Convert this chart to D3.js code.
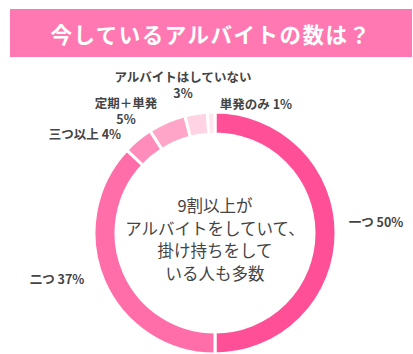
<!DOCTYPE html>
<html>
<head>
<meta charset="utf-8">
<script src="https://cdn.jsdelivr.net/npm/d3@7"></script>
<style>
  body { margin: 0; background: #fff; }
  text { font-family: "Noto Sans CJK JP", sans-serif; }
</style>
</head>
<body>
<div id="chart"></div>
<script>
// data (clockwise from 12 o'clock)
const categories = ["一つ", "二つ", "三つ以上", "定期＋単発", "アルバイトはしていない", "単発のみ"];
const values = [50, 37, 4, 5, 3, 1];
const colors = ["#ff4f96", "#ff6ea8", "#ff8cba", "#ffa6c8", "#ffd3e3", "#ffe6ef"];
const centerLines = ["9割以上が", "アルバイトをしていて、", "掛け持ちをして", "いる人も多数"];
const title = "今しているアルバイトの数は？";

const width = 413, height = 354;
const cx = 215, cy = 233, outerR = 121, innerR = 99;

const svg = d3.select("#chart")
    .append("svg")
    .attr("width", width)
    .attr("height", height)
    .attr("viewBox", [0, 0, width, height]);

// title bar
svg.append("rect")
    .attr("x", 10).attr("y", 9)
    .attr("width", 402).attr("height", 48)
    .attr("fill", "#ff78b1");

svg.append("text")
    .attr("x", 211).attr("y", 33)
    .attr("text-anchor", "middle")
    .attr("dominant-baseline", "central")
    .attr("fill", "#fff")
    .attr("font-size", 21.5)
    .attr("font-weight", "bold")
    .attr("letter-spacing", 1.5)
    .text(title);

const data = categories.map((c, i) => ({ name: c, value: values[i], color: colors[i] }));

const pie = d3.pie().value(d => d.value).sort(null);
const arc = d3.arc().innerRadius(innerR).outerRadius(outerR);

const g = svg.append("g").attr("transform", `translate(${cx}, ${cy})`);

g.selectAll("path")
    .data(pie(data))
    .join("path")
    .attr("d", arc)
    .attr("fill", d => d.data.color)
    .attr("stroke", "#fff")
    .attr("stroke-width", 3);

// center text
g.selectAll(".center")
    .data(centerLines)
    .join("text")
    .attr("class", "center")
    .attr("text-anchor", "middle")
    .attr("dominant-baseline", "central")
    .attr("y", (d, i) => -28 + i * 22.5)
    .attr("fill", "#444")
    .attr("font-size", 16.5)
    .text(d => d);

// outside labels
const labels = [
    { lines: ["一つ 50%"], x: 376, y: 221 },
    { lines: ["二つ 37%"], x: 57, y: 278 },
    { lines: ["三つ以上 4%"], x: 85, y: 133 },
    { lines: ["定期＋単発", "5%"], x: 126, y: 102 },
    { lines: ["アルバイトはしていない", "3%"], x: 183, y: 76 },
    { lines: ["単発のみ 1%"], x: 256, y: 103 }
];
labels.forEach((l, i) => { l.name = categories[i]; });

const lg = svg.selectAll(".lbl")
    .data(labels)
    .join("text")
    .attr("class", "lbl")
    .attr("text-anchor", "middle")
    .attr("fill", "#444")
    .attr("font-size", 12.5)
    .attr("font-weight", "bold");

lg.selectAll("tspan")
    .data(d => d.lines.map(t => ({ t, x: d.x, y: d.y })))
    .join("tspan")
    .attr("x", d => d.x)
    .attr("y", (d, i) => d.y + i * 16)
    .attr("dominant-baseline", "central")
    .text(d => d.t);
</script>
</body>
</html>
